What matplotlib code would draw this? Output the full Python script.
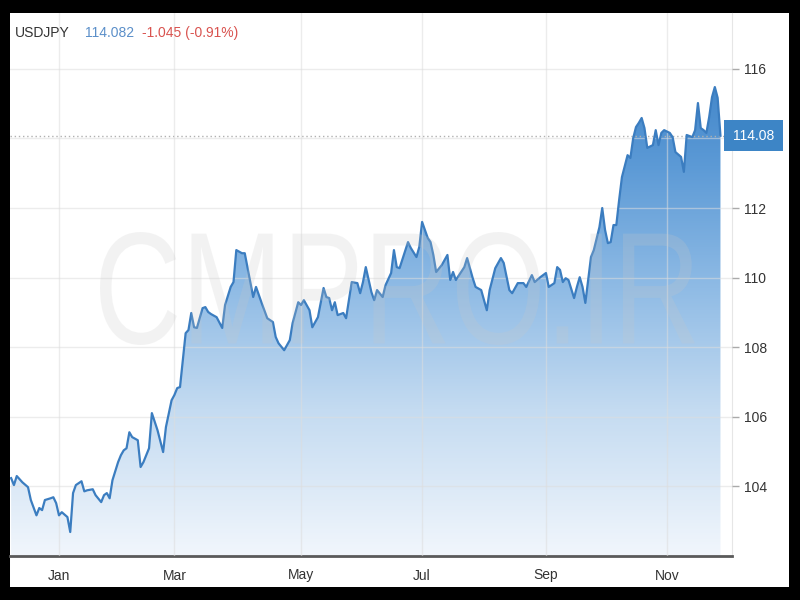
import numpy as np
import matplotlib
matplotlib.use('Agg')
import matplotlib.pyplot as plt
from matplotlib.colors import LinearSegmentedColormap
from matplotlib.textpath import TextPath
from matplotlib.font_manager import FontProperties
from matplotlib.patches import PathPatch
from matplotlib.transforms import Affine2D, IdentityTransform, blended_transform_factory

# trading days counted from this date (weekends skipped)
START = '2020-12-09'
day_idx = [0, 1, 2, 4, 6, 7, 9, 10, 11, 12, 14, 15, 16, 17, 18, 20, 21, 22, 23, 25,
           26, 27, 29, 30, 32, 33, 34, 35, 36, 38, 39, 40, 41, 42, 43, 45, 46, 47, 49, 50,
           52, 54, 55, 57, 58, 59, 60, 61, 62, 63, 64, 65, 66, 68, 69, 70, 71, 73, 75, 76,
           78, 79, 80, 82, 83, 85, 86, 87, 89, 91, 93, 94, 95, 97, 99, 100, 102, 103, 104, 106,
           107, 109, 111, 112, 113, 114, 115, 116, 118, 119, 121, 123, 124, 125, 126, 128, 129, 130, 132, 133,
           135, 136, 137, 138, 141, 142, 144, 145, 146, 148, 149, 150, 151, 153, 155, 156, 157, 158, 161, 162,
           164, 165, 167, 169, 170, 172, 174, 175, 177, 178, 180, 182, 183, 185, 186, 188, 190, 191, 193, 194,
           195, 196, 197, 198, 200, 201, 202, 203, 204, 206, 207, 209, 210, 211, 212, 213, 214, 215, 216, 217,
           219, 220, 221, 222, 223, 224, 225, 226, 228, 229, 230, 231, 232, 234, 235, 236, 238, 239, 240, 242,
           243, 244, 245, 246, 247, 248, 249, 250, 251, 252]
rate = [104.23, 104.03, 104.29, 104.11, 103.97, 103.60, 103.16, 103.37, 103.31, 103.60,
        103.65, 103.68, 103.51, 103.16, 103.25, 103.11, 102.68, 103.80, 104.03, 104.14,
        103.85, 103.88, 103.91, 103.74, 103.54, 103.74, 103.80, 103.65, 104.17, 104.69,
        104.89, 105.03, 105.09, 105.55, 105.41, 105.32, 104.55, 104.69, 105.09, 106.10,
        105.61, 104.98, 105.70, 106.47, 106.62, 106.82, 106.85, 107.63, 108.40, 108.49,
        108.98, 108.57, 108.55, 109.12, 109.15, 109.01, 108.95, 108.86, 108.55, 109.21,
        109.73, 109.87, 110.79, 110.70, 110.70, 109.87, 109.44, 109.73, 109.27, 108.83,
        108.72, 108.29, 108.11, 107.91, 108.20, 108.69, 109.29, 109.21, 109.35, 109.06,
        108.57, 108.86, 109.70, 109.44, 109.41, 109.06, 109.29, 108.92, 108.98, 108.83,
        109.87, 109.84, 109.55, 109.87, 110.30, 109.58, 109.35, 109.64, 109.44, 109.78,
        110.13, 110.79, 110.30, 110.27, 111.02, 110.85, 110.59, 110.88, 111.60, 111.14,
        111.02, 110.65, 110.16, 110.36, 110.65, 109.93, 110.16, 109.93, 110.30, 110.56,
        109.98, 109.73, 109.64, 109.06, 109.64, 110.27, 110.56, 110.42, 109.64, 109.55,
        109.84, 109.84, 109.73, 110.07, 109.87, 110.01, 110.13, 109.73, 109.84, 110.30,
        110.22, 109.87, 109.98, 109.93, 109.41, 109.73, 110.01, 109.73, 109.27, 110.59,
        110.79, 111.45, 112.00, 111.37, 110.99, 111.02, 111.51, 111.51, 112.23, 112.89,
        113.52, 113.44, 114.01, 114.33, 114.45, 114.59, 114.30, 113.73, 113.81, 114.24,
        113.81, 114.16, 114.24, 114.16, 114.04, 113.61, 113.47, 113.04, 114.10, 114.04,
        114.24, 115.02, 114.30, 114.24, 114.16, 114.62, 115.19, 115.48, 115.17, 114.08]

month_starts = ['2021-01-01', '2021-03-01', '2021-05-01', '2021-07-01', '2021-09-01', '2021-11-01']
month_labels = ['Jan', 'Mar', 'May', 'Jul', 'Sep', 'Nov']
y_ticks = [104, 106, 108, 110, 112, 114, 116]
symbol = 'USDJPY'
last_price = 114.082
change = -1.045
change_pct = -0.91

W, H = 800, 600
plt.rcParams['font.family'] = ['Liberation Sans', 'DejaVu Sans']
fig = plt.figure(figsize=(W / 100, H / 100), dpi=100, facecolor='black')

# white card inside the black frame
bg = fig.add_axes([10 / W, 13 / H, 779 / W, 574 / H])
bg.set_facecolor('white')
bg.set_xticks([])
bg.set_yticks([])
for s in bg.spines.values():
    s.set_visible(False)

ax = fig.add_axes([10 / W, 44 / H, 722 / W, 543 / H])
ax.patch.set_alpha(0)
ymin, ymax = 101.99, 117.61
xmin, xmax = -0.4, 256.1
ax.set_xlim(xmin, xmax)
ax.set_ylim(ymin, ymax)

# gradient fill under the line
blues = LinearSegmentedColormap.from_list(
    'fx', [(0.0, '#f1f6fc'), (0.3, '#c4dbf1'), (0.55, '#8fbbe5'), (0.8, '#5c9ad6'), (1.0, '#3f84c8')])
poly = ax.fill_between(day_idx, rate, ymin, facecolor='none', edgecolor='none')
grad = np.linspace(0, 1, 256).reshape(-1, 1)
im = ax.imshow(grad, cmap=blues, aspect='auto', origin='lower',
               extent=(xmin, xmax, ymin, 116.0), zorder=1)
im.set_clip_path(poly.get_paths()[0], transform=ax.transData)
ax.plot(day_idx, rate, color='#3b7dc0', lw=1.6, zorder=3, solid_joinstyle='round')

# last price dotted line
ax.axhline(last_price, color='#b0b0b0', lw=1, ls=(0, (1, 2)), zorder=2)

tick_pos = np.busday_count(START, np.busday_offset(month_starts, 0, roll='forward'))
ax.set_xticks(tick_pos)
ax.set_xticklabels(month_labels)
ax.set_yticks(y_ticks)
# 114 sits behind the price tag in the original
ax.set_yticklabels(['' if t == 114 else str(t) for t in y_ticks])
ax.yaxis.tick_right()
ax.tick_params(axis='x', length=0, pad=9, labelsize=10, labelcolor='#333333')
ax.tick_params(axis='y', length=5, width=1, color='#aaaaaa', pad=4, labelsize=10, labelcolor='#333333')
ax.grid(True, color='#dddddd', lw=1, alpha=0.55, zorder=2)
ax.set_axisbelow(False)
for side in ['top', 'left']:
    ax.spines[side].set_visible(False)
ax.spines['right'].set_color('#e6e6e6')
ax.spines['bottom'].set_color('#5a5a5a')
ax.spines['bottom'].set_linewidth(2)

# price tag on the right axis
ax.text(1.0015, last_price, f'{last_price:.2f}',
        transform=blended_transform_factory(ax.transAxes, ax.transData),
        ha='left', va='center', color='white', fontsize=10, zorder=6,
        bbox=dict(boxstyle='square,pad=0.62', fc='#3d85c6', ec='none'))

# header
fig.text(15 / W, 1 - 33 / H, symbol, color='#333333', fontsize=10, va='center')
fig.text(85 / W, 1 - 33 / H, f'{last_price:.3f}', color='#5b8fc9', fontsize=10, va='center')
fig.text(142 / W, 1 - 33 / H, f'{change:.3f} ({change_pct:.2f}%)', color='#d9534f', fontsize=10, va='center')

# watermark
tp = TextPath((0, 0), 'CMPRO.IR', size=100, prop=FontProperties(family='Liberation Sans'))
ext = tp.get_extents()
tr = (Affine2D().translate(-ext.x0, -ext.y0)
      .scale(595 / ext.width, 113 / ext.height)
      .translate(100, H - 345))
wm = PathPatch(tr.transform_path(tp), transform=IdentityTransform(),
               facecolor='#c8c8c8', edgecolor='none', alpha=0.22, zorder=10)
fig.add_artist(wm)

fig.savefig('out.png', dpi=100, facecolor='black')
